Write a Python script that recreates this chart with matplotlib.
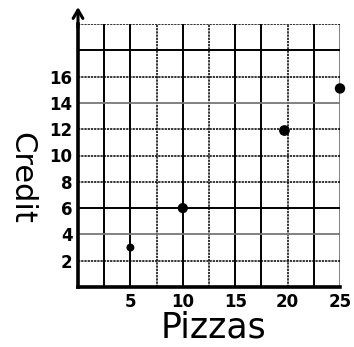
import matplotlib.pyplot as plt

# pizzas sold vs credit earned
pizzas = [5, 10, 19.7, 25]
credit = [3, 6, 11.9, 15.1]

x_ticks = [5, 10, 15, 20, 25]
y_ticks = [2, 4, 6, 8, 10, 12, 14, 16]

fig = plt.figure(figsize=(3.54, 3.47), dpi=100)
ax = fig.add_axes([78 / 354, 60 / 347, 262 / 354, 263 / 347])
ax.set_xlim(0, 25)
ax.set_ylim(0, 20)

# hand drawn grid: mix of heavy, grey and dotted lines
solid = dict(color='black', lw=1.4)
grey = dict(color='#777777', lw=1.3)
dotted = dict(color='black', lw=1.1, linestyle=(0, (1.5, 0.6)))

v_styles = {2.5: solid, 5: solid, 7.5: dotted, 10: solid, 12.5: dotted,
            15: solid, 17.5: solid, 20: dotted, 22.5: solid, 25: grey}
h_styles = {2: dotted, 4: grey, 6: solid, 8: dotted, 10: dotted,
            12: dotted, 14: grey, 16: dotted, 18: solid, 20: dotted}
for xv, st in v_styles.items():
    ax.axvline(xv, zorder=1, **st)
for yv, st in h_styles.items():
    ax.axhline(yv, zorder=1, **st)

ax.scatter(pizzas, credit, s=[22, 40, 45, 42], color='black', zorder=3, clip_on=False)

for side in ['top', 'right']:
    ax.spines[side].set_visible(False)
ax.spines['left'].set_linewidth(2.6)
ax.spines['bottom'].set_linewidth(2.6)

# arrow on the y axis
ax.annotate('', xy=(0, 21.5), xytext=(0, 19.5),
            arrowprops=dict(arrowstyle='->,head_length=0.6,head_width=0.35', lw=2.2, color='black'),
            annotation_clip=False)

ax.set_xticks(x_ticks)
ax.set_xticklabels([str(v) for v in x_ticks])
ax.set_yticks(y_ticks)
ax.set_yticklabels([str(v) for v in y_ticks])
ax.tick_params(length=0, labelsize=12, pad=4)
for lab in ax.get_xticklabels() + ax.get_yticklabels():
    lab.set_fontweight('bold')

fig.text(214 / 354, 2 / 347, 'Pizzas', fontsize=25, ha='center', va='bottom')
fig.text(22 / 354, 1 - 178 / 347, 'Credit', fontsize=22, rotation=-90, ha='center', va='center')

fig.savefig('out.png', dpi=100)
